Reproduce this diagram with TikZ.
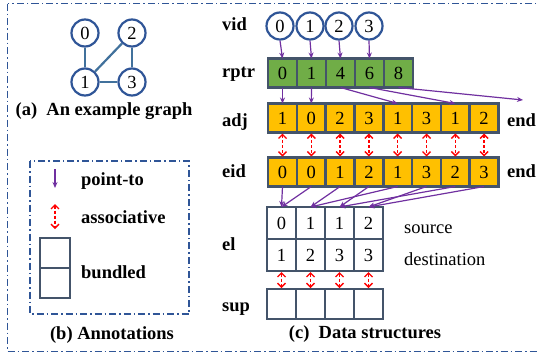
\documentclass[tikz,border=0pt]{standalone}
\usepackage{fontspec}
\setmainfont{Liberation Serif}
\usetikzlibrary{arrows.meta}
\definecolor{cellline}{HTML}{44546A}
\definecolor{cellgreen}{HTML}{70AD47}
\definecolor{cellgold}{HTML}{FFC000}
\definecolor{ringblue}{HTML}{2F5597}
\definecolor{edgeblue}{HTML}{41719C}
\definecolor{ptrpurple}{HTML}{7030A0}
\definecolor{framecol}{HTML}{2F5597}
\newcommand{\txtsize}{\fontsize{18.5}{20}\selectfont}
\tikzset{
  cell/.style={draw=cellline, line width=2.6pt, minimum width=29pt, minimum height=29pt,
    inner sep=0pt, outer sep=0pt, font=\txtsize},
  vtx/.style={circle, draw=ringblue, fill=white, line width=2.2pt, minimum size=27pt,
    inner sep=0pt, font=\txtsize},
  gedge/.style={edgeblue, line width=2.2pt},
  pointer/.style={ptrpurple, line width=1.2pt, -{Stealth[length=6pt,width=5pt]}},
  assoc/.style={red, line width=1.4pt, dash pattern=on 3pt off 2pt,
    {Straight Barb[length=4pt,width=8pt]}-{Straight Barb[length=4pt,width=8pt]},
    shorten <=1pt, shorten >=1pt},
  frame/.style={framecol, line width=1.3pt, dash pattern=on 7pt off 3pt on 1.5pt off 3pt},
  lbl/.style={font=\bfseries\txtsize, anchor=base west, inner sep=0pt},
  plain/.style={font=\txtsize, anchor=base west, inner sep=0pt},
  caption/.style={font=\bfseries\txtsize, anchor=base, inner sep=0pt},
}
\begin{document}
\begin{tikzpicture}[x=1pt, y=-1pt]
\useasboundingbox (0,0) rectangle (537,354);

% outer frame and annotation frame
\draw[frame] (7.5,3.5) rectangle (545,351.5);
\draw[frame] (30,161) rectangle (189,314);

% (a) example graph
\node[vtx] (g0) at (85,33) {0};
\node[vtx] (g2) at (132,33) {2};
\node[vtx] (g1) at (85,82) {1};
\node[vtx] (g3) at (132,82) {3};
\draw[gedge] (g0) -- (g1);
\draw[gedge] (g1) -- (g2);
\draw[gedge] (g2) -- (g3);
\draw[gedge] (g1) -- (g3);
\node[caption] (capa) at (104,115) {(a)~ An example graph};

% (b) annotations
\coordinate (pt1) at (55,169);
\coordinate (pt2) at (55,188);
\draw[pointer] (pt1) -- (pt2);
\node[lbl] (ptxt) at (81,185) {point-to};
\coordinate (as1) at (55,204);
\coordinate (as2) at (55,229);
\draw[assoc, shorten <=0pt, shorten >=0pt] (as1) -- (as2);
\node[lbl] (atxt) at (81,223) {associative};
\node[cell, minimum width=30pt, minimum height=30pt] (b1) at (55,253) {};
\node[cell, minimum width=30pt, minimum height=30pt] (b2) at (55,283) {};
\node[lbl] (btxt) at (81,278) {bundled};
\node[caption] (capb) at (112,339) {(b) Annotations};

% (c) row labels
\node[lbl] (lvid) at (222,30) {vid};
\node[lbl] (lrptr) at (222,77) {rptr};
\node[lbl] (ladj) at (222,126) {adj};
\node[lbl] (leid) at (222,177) {eid};
\node[lbl] (lel) at (222,250) {el};
\node[lbl] (lsup) at (222,311) {sup};

% vertex ids
\foreach \v [count=\i from 0] in {280,310,339,369}
  \node[vtx] (v\i) at (\v,26) {\i};

% row pointer array
\foreach \v [count=\i from 0] in {0,1,4,6,8}
  \node[cell, fill=cellgreen] (r\i) at ({282.5+29*\i},73) {\v};

% adjacency and edge-id arrays
\foreach \v [count=\i from 0] in {1,0,2,3,1,3,1,2}
  \node[cell, fill=cellgold] (a\i) at ({282.5+28.8*\i},118) {\v};
\foreach \v [count=\i from 0] in {0,0,1,2,1,3,2,3}
  \node[cell, fill=cellgold] (e\i) at ({282.5+28.8*\i},172) {\v};
\node[lbl] (aend) at (507,126) {end};
\node[lbl] (eend) at (507,177) {end};

% edge list (source / destination) and support array
\foreach \v [count=\i from 0] in {0,1,1,2}
  \node[cell, fill=white, minimum height=32pt] (s\i) at ({281.5+29*\i},223) {\v};
\foreach \v [count=\i from 0] in {1,2,3,3}
  \node[cell, fill=white, minimum height=32pt] (d\i) at ({281.5+29*\i},255) {\v};
\foreach \i in {0,...,3}
  \node[cell, fill=white, minimum height=30pt] (p\i) at ({281.5+29*\i},304) {};
\node[plain] (src) at (404,233) {source};
\node[plain] (dst) at (404,265) {destination};

% vid -> rptr
\foreach \i in {0,...,3}
  \draw[pointer] (v\i.south) -- (r\i.north);

% rptr -> adj
\coordinate (adjend) at (523,100);
\draw[pointer] (r0.south) -- (a0.north);
\draw[pointer] (r1.south) -- (a1.north);
\draw[pointer] (r2.south) -- (a4.north);
\draw[pointer] (r3.south) -- (a6.north);
\draw[pointer] (r4.south) -- (adjend);

% adj <-> eid
\foreach \i in {0,...,7}
  \draw[assoc] (a\i.south) -- (e\i.north);

% eid -> el
\foreach \i/\j in {0/0,1/0,2/1,3/2,4/1,5/3,6/2,7/3}
  \draw[pointer] (e\i.south) -- (s\j.north);

% el <-> sup
\foreach \i in {0,...,3}
  \draw[assoc] (d\i.south) -- (p\i.north);

\node[caption] (capc) at (365,338) {(c)~ Data structures};
\end{tikzpicture}
\end{document}
